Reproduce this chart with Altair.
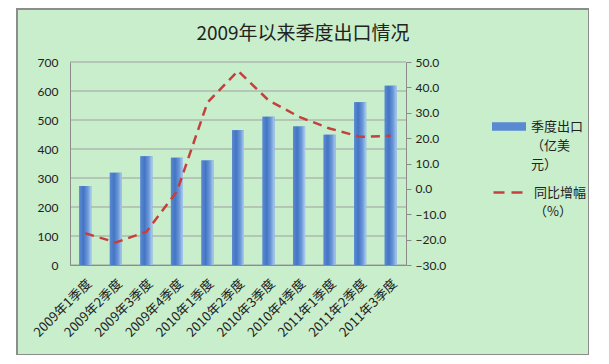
import altair as alt
import pandas as pd

quarters = ["2009年1季度", "2009年2季度", "2009年3季度", "2009年4季度",
            "2010年1季度", "2010年2季度", "2010年3季度", "2010年4季度",
            "2011年1季度", "2011年2季度", "2011年3季度"]
exports = [272, 318, 375, 370, 360, 465, 511, 478, 449, 561, 618]
growth = [-17.5, -21.1, -16.9, -1.0, 34.0, 46.5, 34.9, 28.4, 23.8, 20.5, 20.9]
left_ticks = [0, 100, 200, 300, 400, 500, 600, 700]
right_ticks = [-30, -20, -10, 0, 10, 20, 30, 40, 50]
bar_legend_lines = ["季度出口", "（亿美", "元）"]
line_legend_lines = ["同比增幅", "（%）"]

cjk = "Noto Sans CJK SC"
num = "Lato"
green = "#c8eecc"
gray = "#8c8c8c"
blue = "#5a8ad2"
red = "#c4403c"

df = pd.DataFrame({"q": quarters, "v": exports, "g": growth,
                   "s": bar_legend_lines[0], "t": line_legend_lines[0]})
grid_df = pd.DataFrame({"y": left_ticks})

W, H = 336, 203

xenc = alt.X("q:N", sort=quarters,
             scale=alt.Scale(paddingInner=0, paddingOuter=0),
             axis=alt.Axis(title=None, labelAngle=-45, labelFont=cjk,
                           labelFontSize=13, labelColor="#222", ticks=False,
                           domainColor=gray, labelPadding=12, zindex=1))

yscale_l = alt.Scale(domain=[0, 700], nice=False, zero=True)
laxis = alt.Axis(title=None, values=left_ticks, grid=False, ticks=False,
                 domainColor=gray, labelFont=num, labelFontSize=12,
                 labelColor="#222", labelPadding=12, zindex=1)
raxis = alt.Axis(title=None, orient="right", values=right_ticks, format=".1f",
                 grid=False, ticks=True, tickSize=5, tickColor=gray,
                 domainColor=gray, labelFont=num, labelFontSize=12,
                 labelColor="#222", labelPadding=4, zindex=1)

frame = alt.Chart(pd.DataFrame({"a": [0]})).mark_rect(
    fill=green, stroke=gray, strokeWidth=2
).encode(x=alt.value(-53), x2=alt.value(519), y=alt.value(-53), y2=alt.value(293))

grid = alt.Chart(grid_df).mark_rule(color="#a0a0a0", strokeWidth=1).encode(
    y=alt.Y("y:Q", scale=yscale_l, axis=laxis))

bar_grad = alt.Gradient(
    gradient="linear", x1=0, x2=1, y1=0, y2=0,
    stops=[alt.GradientStop(color="#5a8ad2", offset=0),
           alt.GradientStop(color="#4475c4", offset=0.35),
           alt.GradientStop(color="#6b98d8", offset=0.7),
           alt.GradientStop(color="#b0cdee", offset=1)])

bars_leg = alt.Chart(df).mark_bar(size=12).encode(
    x=xenc,
    y=alt.Y("v:Q", scale=yscale_l, axis=laxis),
    color=alt.Color("s:N", scale=alt.Scale(domain=bar_legend_lines,
                                           range=[blue, "transparent", "transparent"]),
                    legend=alt.Legend(
                        title=None, orient="none", legendX=422, legendY=56,
                        symbolType="M-1,-0.25L1,-0.25L1,0.25L-1,0.25Z",
                        symbolSize=1156, symbolStrokeWidth=0, symbolOpacity=1,
                        labelFont=cjk, labelFontSize=13, labelColor="#222",
                        labelOffset=5, padding=0, rowPadding=2, clipHeight=17)))

bars = alt.Chart(df).mark_bar(size=12, color=bar_grad).encode(
    x=xenc, y=alt.Y("v:Q", scale=yscale_l, axis=laxis))

left = alt.layer(grid, bars_leg, bars)

line = alt.Chart(df).mark_line(strokeWidth=2.5, strokeDash=[9, 6]).encode(
    x=xenc,
    y=alt.Y("g:Q", scale=alt.Scale(domain=[-30, 50], nice=False), axis=raxis),
    stroke=alt.Stroke("t:N", scale=alt.Scale(domain=line_legend_lines,
                                             range=[red, "transparent"]),
                      legend=alt.Legend(
                          title=None, orient="none", legendX=422, legendY=122,
                          symbolType="stroke", symbolSize=1156,
                          symbolStrokeWidth=2.5, symbolDash=[11, 7],
                          labelFont=cjk, labelFontSize=13, labelColor="#222",
                          labelOffset=5, padding=0, rowPadding=2, clipHeight=17)))

chart = alt.layer(frame, left, line).resolve_scale(y="independent").properties(
    width=W, height=H,
    title=alt.Title("2009年以来季度出口情况", font=cjk, fontSize=19,
                    fontWeight="normal", color="#222", dx=65, offset=-36,
                    anchor="middle", frame="group"),
    autosize=alt.AutoSizeParams(type="none"),
    padding={"left": 62, "top": 54, "right": 183, "bottom": 90},
).configure(background="white").configure_view(strokeWidth=0)

chart.save("out.html", embed_options={"renderer": "svg", "actions": False})
